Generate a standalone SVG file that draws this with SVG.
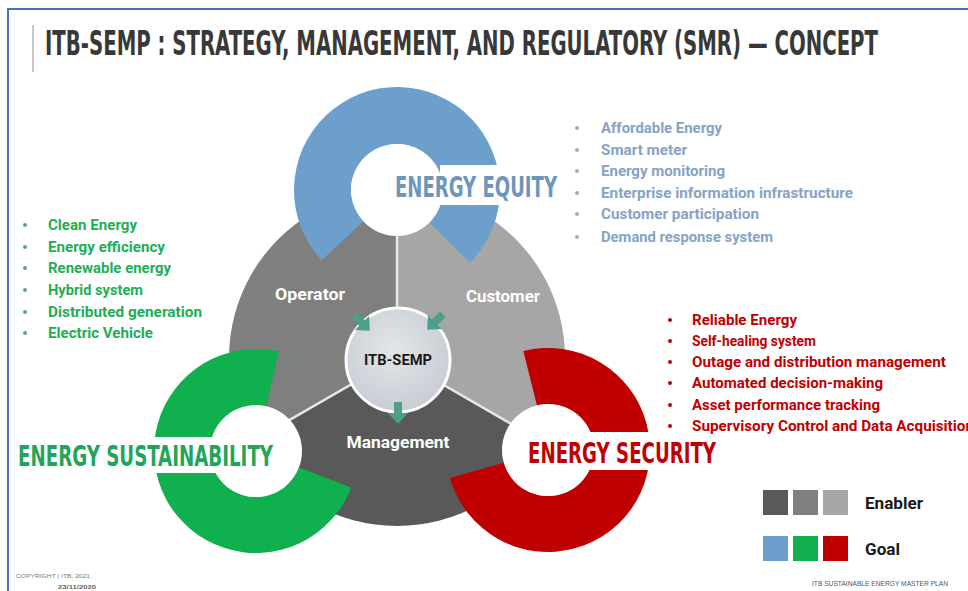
<svg xmlns="http://www.w3.org/2000/svg" width="968" height="591" viewBox="0 0 968 591">
<defs>
<style>
.head{font-family:'Liberation Sans Narrow','DejaVu Sans Condensed','Roboto',sans-serif;font-weight:bold;}
.lst{font-family:'Roboto','Liberation Sans',sans-serif;font-weight:bold;font-size:14px;}
.blue{fill:#86a3c6;}
.green{fill:#1fae55;}
.red{fill:#c00000;}
.lbl{font-family:'Roboto','Liberation Sans',sans-serif;font-weight:bold;font-size:16px;fill:#ffffff;text-anchor:middle;}
.divider{stroke:#e6e6e6;stroke-width:2.5;fill:none;}
.arrow{fill:#4f9e8c;}
.box{fill:#ffffff;}
</style>
<radialGradient id="cg" cx="0.45" cy="0.4" r="0.7">
<stop offset="0" stop-color="#e2e6ea"/>
<stop offset="1" stop-color="#c3c9d0"/>
</radialGradient>
<path id="arr" d="M-11,-4 L0,-4 L0,-10 L11,0 L0,10 L0,4 L-11,4 Z"/>
</defs>
<rect width="968" height="591" fill="#ffffff"/>
<path d="M8,591 V9 H968" fill="none" stroke="#4472c4" stroke-width="2"/>
<line x1="33" y1="25" x2="33" y2="72" stroke="#c8c8c8" stroke-width="2"/>
<text transform="translate(45,55) scale(1,1.4)" x="0" y="0" font-family="'Liberation Sans Narrow','DejaVu Sans Condensed','Roboto',sans-serif" font-weight="bold" font-size="24" fill="#383838" textLength="833" lengthAdjust="spacingAndGlyphs">ITB-SEMP : STRATEGY, MANAGEMENT, AND REGULATORY (SMR) — CONCEPT</text>

<g id="enabler-wheel">
<path id="operator-sector" d="M397,358 L251.51,442 A168,168 0 0 1 397,190 Z" fill="#7f7f7f"/>
<path id="customer-sector" d="M397,358 L397,190 A168,168 0 0 1 542.49,442 Z" fill="#a6a6a6"/>
<path id="management-sector" d="M397,358 L542.49,442 A168,168 0 0 1 251.51,442 Z" fill="#595959"/>
<path class="divider" d="M397,358 L397,190 M397,358 L251.51,442 M397,358 L542.49,442"/>
</g>

<g id="energy-equity">
<path d="M321.67,260.25 A103,103 0 1 1 469.83,262.83 L429.53,222.53 A46,46 0 1 0 363.36,221.37 Z" fill="#6c9fcb"/>
<circle cx="397" cy="190" r="46" fill="#ffffff"/>
<rect class="box" x="440" y="165" width="122" height="40"/>
<text class="head" transform="translate(395,197) scale(1,1.4)" x="0" y="0" font-size="20" fill="#6f95ba" textLength="162" lengthAdjust="spacingAndGlyphs">ENERGY EQUITY</text>
</g>

<g id="energy-sustainability">
<path d="M351.23,487.55 A102,102 0 1 1 278.95,351.61 L266.35,406.18 A46,46 0 1 0 298.95,467.49 Z" fill="#10b04f"/>
<circle cx="256" cy="451" r="46" fill="#ffffff"/>
<rect class="box" x="14" y="437" width="215" height="36"/>
<text class="head" transform="translate(18,466) scale(1,1.45)" x="0" y="0" font-size="20" fill="#22a55a" textLength="255" lengthAdjust="spacingAndGlyphs">ENERGY SUSTAINABILITY</text>
</g>

<g id="energy-security">
<path d="M523.32,351.03 A102,102 0 1 1 449.95,478.11 L503.78,462.68 A46,46 0 1 0 536.87,405.37 Z" fill="#c00000"/>
<circle cx="548" cy="450" r="46" fill="#ffffff"/>
<rect class="box" x="560" y="432" width="162" height="38"/>
<text class="head" transform="translate(528,463) scale(1,1.45)" x="0" y="0" font-size="20" fill="#c00000" textLength="188" lengthAdjust="spacingAndGlyphs">ENERGY SECURITY</text>
</g>

<g id="operator"><text class="lbl" x="310" y="300" textLength="70" lengthAdjust="spacingAndGlyphs">Operator</text></g>
<g id="customer"><text class="lbl" x="503" y="302" textLength="74" lengthAdjust="spacingAndGlyphs">Customer</text></g>
<g id="management"><text class="lbl" x="398" y="448" textLength="103" lengthAdjust="spacingAndGlyphs">Management</text></g>

<g id="itb-semp">
<circle cx="398" cy="360" r="52" fill="url(#cg)" stroke="#ffffff" stroke-width="3"/>
<text x="398" y="365" font-family="'Roboto','Liberation Sans',sans-serif" font-weight="bold" font-size="14" fill="#1a1a1a" text-anchor="middle" textLength="68" lengthAdjust="spacingAndGlyphs">ITB-SEMP</text>
</g>

<g id="connectors">
<use href="#arr" class="arrow" transform="translate(362,323) rotate(45)"/>
<use href="#arr" class="arrow" transform="translate(435,322) rotate(135)"/>
<use href="#arr" class="arrow" transform="translate(398,413) rotate(90)"/>
</g>

<g id="equity-list">
<g fill="#9aaec6"><circle cx="577" cy="128" r="2"/><circle cx="577" cy="150" r="2"/><circle cx="577" cy="171" r="2"/><circle cx="577" cy="193" r="2"/><circle cx="577" cy="214" r="2"/><circle cx="577" cy="237" r="2"/></g>
<text class="lst blue" x="601" y="133" textLength="121" lengthAdjust="spacingAndGlyphs">Affordable Energy</text>
<text class="lst blue" x="601" y="155" textLength="86" lengthAdjust="spacingAndGlyphs">Smart meter</text>
<text class="lst blue" x="601" y="176" textLength="124" lengthAdjust="spacingAndGlyphs">Energy monitoring</text>
<text class="lst blue" x="601" y="198" textLength="252" lengthAdjust="spacingAndGlyphs">Enterprise information infrastructure</text>
<text class="lst blue" x="601" y="219" textLength="158" lengthAdjust="spacingAndGlyphs">Customer participation</text>
<text class="lst blue" x="601" y="242" textLength="172" lengthAdjust="spacingAndGlyphs">Demand response system</text>
</g>

<g id="sustainability-list">
<g fill="#5fa37c"><circle cx="25" cy="225" r="2"/><circle cx="25" cy="247" r="2"/><circle cx="25" cy="268" r="2"/><circle cx="25" cy="290" r="2"/><circle cx="25" cy="312" r="2"/><circle cx="25" cy="333" r="2"/></g>
<text class="lst green" x="48" y="230" textLength="89" lengthAdjust="spacingAndGlyphs">Clean Energy</text>
<text class="lst green" x="48" y="252" textLength="117" lengthAdjust="spacingAndGlyphs">Energy efficiency</text>
<text class="lst green" x="48" y="273" textLength="123" lengthAdjust="spacingAndGlyphs">Renewable energy</text>
<text class="lst green" x="48" y="295" textLength="95" lengthAdjust="spacingAndGlyphs">Hybrid system</text>
<text class="lst green" x="48" y="317" textLength="154" lengthAdjust="spacingAndGlyphs">Distributed generation</text>
<text class="lst green" x="48" y="338" textLength="105" lengthAdjust="spacingAndGlyphs">Electric Vehicle</text>
</g>

<g id="security-list">
<g fill="#c00000"><circle cx="670" cy="320" r="2"/><circle cx="670" cy="341" r="2"/><circle cx="670" cy="362" r="2"/><circle cx="670" cy="383" r="2"/><circle cx="670" cy="405" r="2"/><circle cx="670" cy="426" r="2"/></g>
<text class="lst red" x="692" y="325" textLength="105" lengthAdjust="spacingAndGlyphs">Reliable Energy</text>
<text class="lst red" x="692" y="346" textLength="124" lengthAdjust="spacingAndGlyphs">Self-healing system</text>
<text class="lst red" x="692" y="367" textLength="254" lengthAdjust="spacingAndGlyphs">Outage and distribution management</text>
<text class="lst red" x="692" y="388" textLength="191" lengthAdjust="spacingAndGlyphs">Automated decision-making</text>
<text class="lst red" x="692" y="410" textLength="188" lengthAdjust="spacingAndGlyphs">Asset performance tracking</text>
<text class="lst red" x="692" y="431" textLength="282" lengthAdjust="spacingAndGlyphs">Supervisory Control and Data Acquisition</text>
</g>

<g id="legend">
<rect x="763" y="490" width="25" height="25" fill="#595959"/>
<rect x="793" y="490" width="25" height="25" fill="#7f7f7f"/>
<rect x="823" y="490" width="25" height="25" fill="#a6a6a6"/>
<rect x="763" y="536" width="25" height="25" fill="#6c9fcb"/>
<rect x="793" y="536" width="25" height="25" fill="#10b04f"/>
<rect x="823" y="536" width="25" height="25" fill="#c00000"/>
<text x="865" y="509" font-family="'Roboto','Liberation Sans',sans-serif" font-weight="bold" font-size="16" fill="#1a1a1a" textLength="58" lengthAdjust="spacingAndGlyphs">Enabler</text>
<text x="865" y="555" font-family="'Roboto','Liberation Sans',sans-serif" font-weight="bold" font-size="16" fill="#1a1a1a" textLength="35" lengthAdjust="spacingAndGlyphs">Goal</text>
</g>

<text x="812" y="586" font-family="'Liberation Sans Narrow','Liberation Sans',sans-serif" font-size="7" fill="#555555" textLength="136" lengthAdjust="spacingAndGlyphs">ITB SUSTAINABLE ENERGY MASTER PLAN</text>
<text x="16" y="578" font-family="'Liberation Sans',sans-serif" font-size="5" fill="#777777" textLength="74" lengthAdjust="spacingAndGlyphs">COPYRIGHT | ITB, 2021</text>
<text x="58" y="589" font-family="'Liberation Sans',sans-serif" font-weight="bold" font-size="6" fill="#666666" textLength="38" lengthAdjust="spacingAndGlyphs">23/11/2020</text>
</svg>
